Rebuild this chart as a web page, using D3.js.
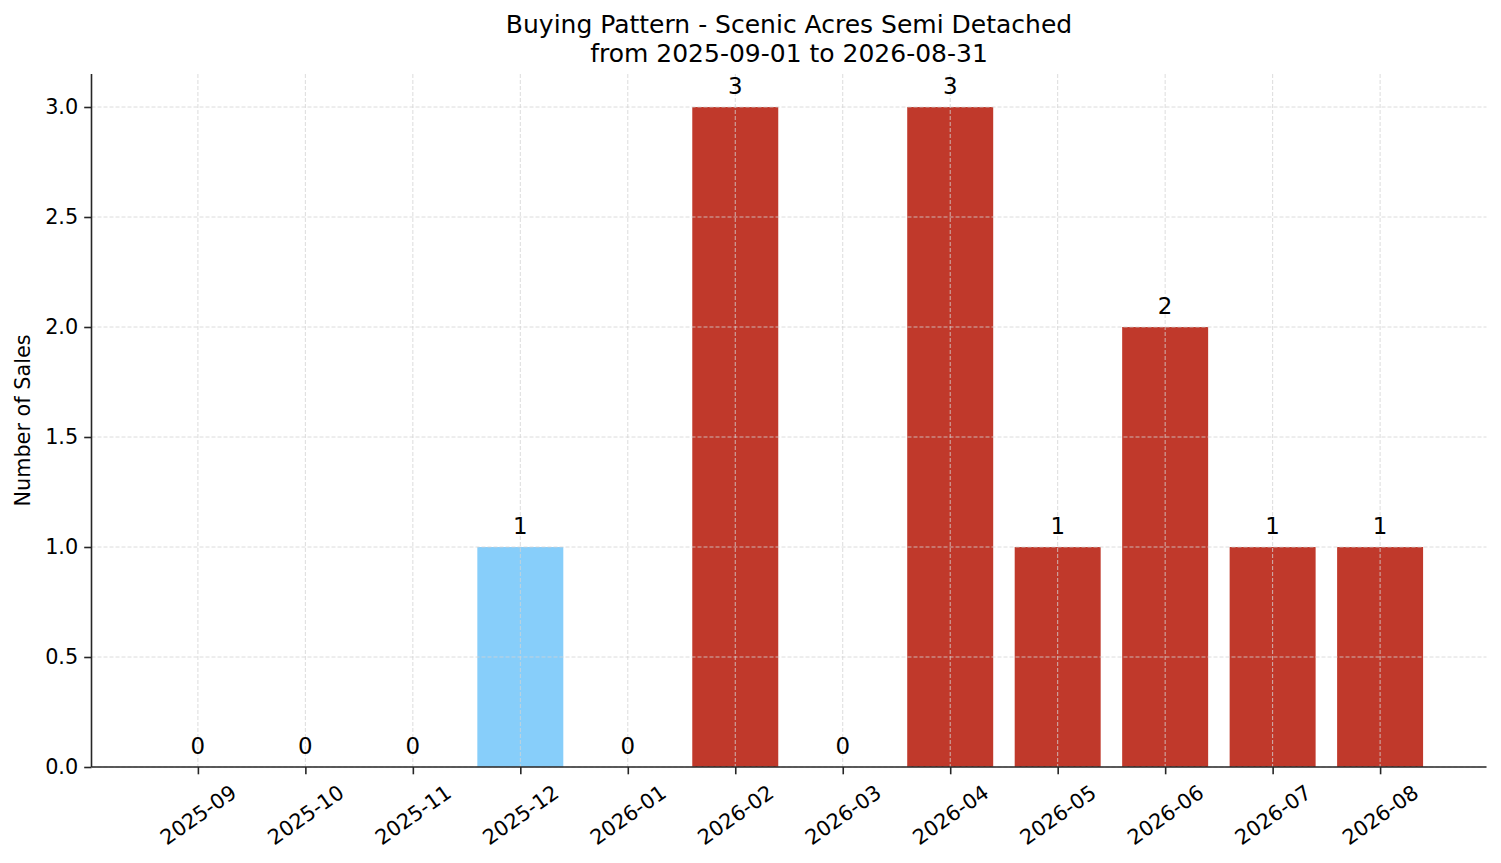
<!DOCTYPE html>
<html>
<head>
<meta charset="utf-8">
<script src="https://cdn.jsdelivr.net/npm/d3@7"></script>
<style>
  body { margin: 0; background: #fff; }
  svg { display: block; font-family: "DejaVu Sans", sans-serif; }
</style>
</head>
<body>
<svg id="chart" width="1501" height="863"></svg>
<script>
const months = ["2025-09", "2025-10", "2025-11", "2025-12", "2026-01", "2026-02",
  "2026-03", "2026-04", "2026-05", "2026-06", "2026-07", "2026-08"];
const sales = [0, 0, 0, 1, 0, 3, 0, 3, 1, 2, 1, 1];
const highlightMonth = "2025-12";
const yTicks = [0, 0.5, 1.0, 1.5, 2.0, 2.5, 3.0];
const titleLines = ["Buying Pattern - Scenic Acres Semi Detached", "from 2025-09-01 to 2026-08-31"];

const svg = d3.select("#chart");
const plot = { left: 91.5, right: 1486.5, top: 74, bottom: 767 };

const x = d3.scaleLinear().domain([-0.99, months.length - 0.01]).range([plot.left, plot.right]);
const y = d3.scaleLinear().domain([0, 3.15]).range([plot.bottom, plot.top]);
const barW = x(0.8) - x(0);

// bars
svg.append("g")
  .selectAll("rect")
  .data(sales)
  .enter()
  .append("rect")
  .attr("x", (d, i) => x(i) - barW / 2)
  .attr("y", (d) => y(d))
  .attr("width", barW)
  .attr("height", (d) => y(0) - y(d))
  .attr("fill", (d, i) => (months[i] === highlightMonth ? "#87cefa" : "#c0392b"));

// grid (drawn over the bars)
const grid = svg.append("g")
  .attr("stroke", "#d3d3d3")
  .attr("stroke-width", 0.8)
  .attr("stroke-dasharray", "4,2");
grid.selectAll(".gy")
  .data(yTicks)
  .enter()
  .append("line")
  .attr("x1", plot.left).attr("x2", plot.right)
  .attr("y1", (d) => y(d)).attr("y2", (d) => y(d));
grid.selectAll(".gx")
  .data(months)
  .enter()
  .append("line")
  .attr("x1", (d, i) => x(i)).attr("x2", (d, i) => x(i))
  .attr("y1", plot.top).attr("y2", plot.bottom);

// y axis
const yAxis = svg.append("g")
  .attr("transform", `translate(${plot.left},0)`)
  .call(d3.axisLeft(y).tickValues(yTicks).tickFormat(d3.format(".1f")).tickSize(7.3).tickPadding(6));
yAxis.select(".domain").attr("d", `M0,${plot.bottom}V${plot.top}`);

// x axis
const xAxis = svg.append("g")
  .attr("transform", `translate(0,${plot.bottom})`)
  .call(d3.axisBottom(x).tickValues(d3.range(months.length)).tickFormat((d) => months[d]).tickSize(7.3));
xAxis.select(".domain").attr("d", `M${plot.left},0H${plot.right}`);
xAxis.selectAll(".tick text")
  .attr("y", 0)
  .attr("dy", null)
  .attr("dominant-baseline", "central")
  .attr("text-anchor", "middle")
  .attr("transform", "translate(0,48) rotate(-35)");

svg.selectAll(".domain, .tick line")
  .attr("stroke", "#262626")
  .attr("stroke-width", 1.6);
svg.selectAll(".tick text")
  .attr("fill", "#000")
  .style("font-size", "20.8px")
  .style("font-family", "'DejaVu Sans', sans-serif");

// value labels
svg.append("g")
  .selectAll("text")
  .data(sales)
  .enter()
  .append("text")
  .attr("x", (d, i) => x(i))
  .attr("y", (d) => y(d) - 13)
  .attr("text-anchor", "middle")
  .style("font-size", "22.9px")
  .text((d) => d);

// y label
svg.append("text")
  .attr("transform", `translate(30,${(plot.top + plot.bottom) / 2}) rotate(-90)`)
  .attr("text-anchor", "middle")
  .style("font-size", "20.8px")
  .text("Number of Sales");

// title
svg.append("g")
  .selectAll("text")
  .data(titleLines)
  .enter()
  .append("text")
  .attr("x", (plot.left + plot.right) / 2)
  .attr("y", (d, i) => 33 + i * 29)
  .attr("text-anchor", "middle")
  .style("font-size", "25px")
  .text((d) => d);
</script>
</body>
</html>
